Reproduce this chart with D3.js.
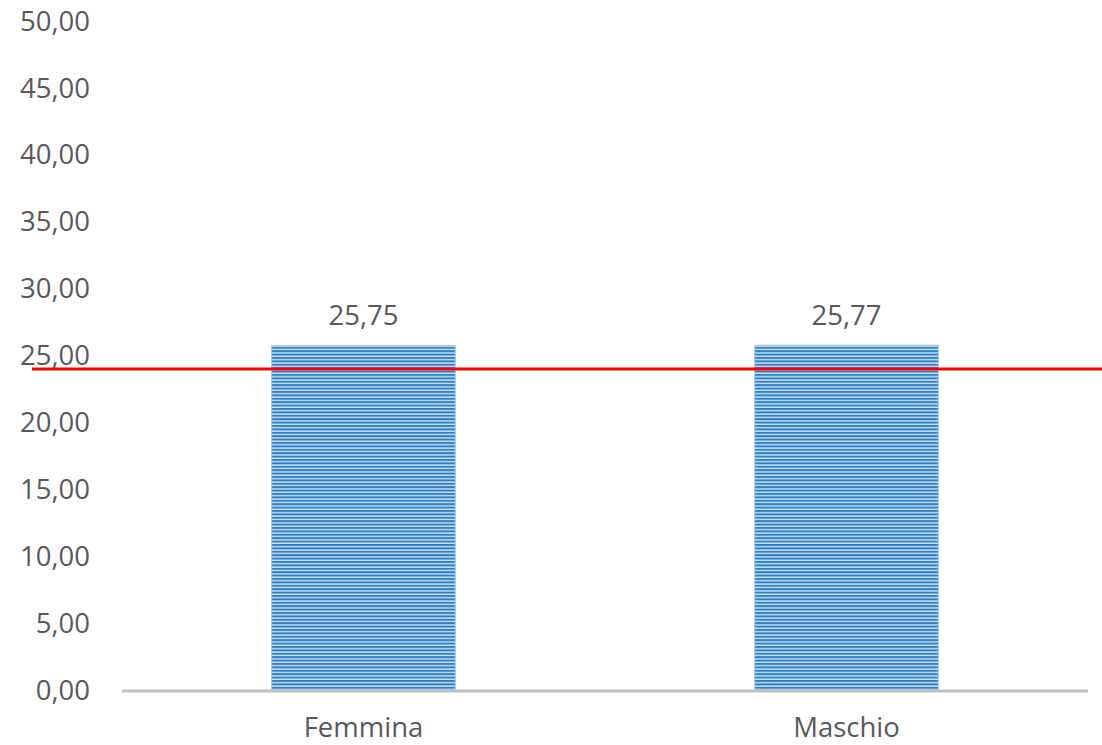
<!DOCTYPE html>
<html>
<head>
<meta charset="utf-8">
<script src="https://cdn.jsdelivr.net/npm/d3@7"></script>
<style>
  body { margin: 0; background: #fff; }
  text { font-family: "Open Sans", sans-serif; fill: #595959; }
</style>
</head>
<body>
<div id="chart"></div>
<script>
var categories = ["Femmina", "Maschio"];
var values = [25.75, 25.77];
var refValue = 24;
var yTicks = [0, 5, 10, 15, 20, 25, 30, 35, 40, 45, 50];

var width = 1102, height = 745;
var plotLeft = 122, plotRight = 1088, plotTop = 21, plotBottom = 690;
var fontSize = "27.5px";

var svg = d3.select("#chart").append("svg")
    .attr("width", width)
    .attr("height", height);

var defs = svg.append("defs");
var pat = defs.append("pattern")
    .attr("id", "stripes")
    .attr("patternUnits", "userSpaceOnUse")
    .attr("width", 10)
    .attr("height", 3.4);
pat.append("rect").attr("width", 10).attr("height", 3.4).attr("fill", "#d3e4f4");
pat.append("rect").attr("width", 10).attr("height", 2).attr("fill", "#2a80c9");

var x = d3.scaleBand()
    .domain(categories)
    .range([plotLeft, plotRight])
    .paddingInner(0.62)
    .paddingOuter(0.31);

var y = d3.scaleLinear()
    .domain([0, 50])
    .range([plotBottom, plotTop]);

// y tick labels
svg.selectAll(".ytick")
    .data(yTicks)
    .enter().append("text")
    .attr("class", "ytick")
    .attr("x", 90)
    .attr("y", d => y(d))
    .attr("dy", "0.35em")
    .attr("text-anchor", "end")
    .style("font-size", fontSize)
    .text(d => d3.format(".2f")(d).replace(".", ","));

// bars
svg.selectAll(".bar")
    .data(values)
    .enter().append("rect")
    .attr("class", "bar")
    .attr("x", (d, i) => x(categories[i]))
    .attr("y", d => y(d))
    .attr("width", x.bandwidth())
    .attr("height", d => y(0) - y(d))
    .attr("fill", "url(#stripes)")
    .attr("stroke", "#9fc3e6")
    .attr("stroke-width", 1);

// axis line
svg.append("line")
    .attr("x1", plotLeft).attr("x2", plotRight)
    .attr("y1", y(0) + 1).attr("y2", y(0) + 1)
    .attr("stroke", "#bfbfbf")
    .attr("stroke-width", 3);

// data labels
svg.selectAll(".dlabel")
    .data(values)
    .enter().append("text")
    .attr("class", "dlabel")
    .attr("x", (d, i) => x(categories[i]) + x.bandwidth() / 2)
    .attr("y", d => y(d) - 30)
    .attr("dy", "0.35em")
    .attr("text-anchor", "middle")
    .style("font-size", fontSize)
    .text(d => d3.format(".2f")(d).replace(".", ","));

// category labels
svg.selectAll(".xlabel")
    .data(categories)
    .enter().append("text")
    .attr("class", "xlabel")
    .attr("x", d => x(d) + x.bandwidth() / 2)
    .attr("y", 727)
    .attr("dy", "0.35em")
    .attr("text-anchor", "middle")
    .style("font-size", fontSize)
    .text(d => d);

// reference line
svg.append("line")
    .attr("x1", 32).attr("x2", width)
    .attr("y1", y(refValue)).attr("y2", y(refValue))
    .attr("stroke", "#ff0000")
    .attr("stroke-width", 3);
</script>
</body>
</html>
